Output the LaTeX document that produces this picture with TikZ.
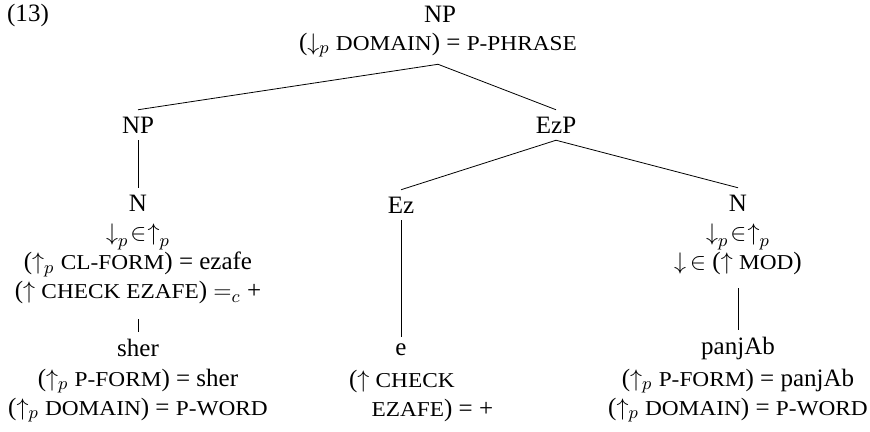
\documentclass[tikz,border=0pt]{standalone}
\usepackage{fontspec}
\setmainfont{Liberation Serif}
\newfontfamily\scfam[FakeStretch=1.1]{Liberation Serif}
\usepackage{amsmath}
\tikzset{cat/.style={font=\fontsize{12.5}{14.5}\selectfont},
  ann/.style={align=center,font=\fontsize{12.5}{14.5}\selectfont}}
\newcommand{\fsc}[1]{{\scfam\fontsize{10.6}{12}\selectfont #1}}
\newcommand{\pin}{$\mathord{\downarrow}_p\mkern1.5mu\mathord{\in}\mkern1mu\mathord{\uparrow}_p$}

\begin{document}
\begin{tikzpicture}[x=0.5pt,y=-0.5pt]
      \useasboundingbox (0,0) rectangle (870,432);
      \node[cat] (exnum) at (28,15) {(13)};
      \node[cat] (np0) at (440,14) {NP};
      \node[ann] (np0ann) at (438,45) {($\downarrow_p$ \fsc{DOMAIN}) = \fsc{P-PHRASE}};
      \node[cat] (npL) at (138,125) {NP};
      \node[cat] (ezp) at (556,125) {EzP};
      \node[cat] (nL) at (138,203) {N};
      \node[ann] (nLann) at (138,264) {\pin\\($\uparrow_p$ \fsc{CL-FORM}) = ezafe\\($\uparrow$ \fsc{CHECK EZAFE}) $=_c$ +};
      \node[cat] (ez) at (401,205) {Ez};
      \node[cat] (nR) at (738,203) {N};
      \node[ann] (nRann) at (738,249.5) {\pin\\$\downarrow\,\in$ ($\uparrow$ \fsc{MOD})};
      \node[cat] (sher) at (138,348) {sher};
      \node[ann] (sherann) at (138,395.5) {($\uparrow_p$ \fsc{P-FORM}) = sher\\($\uparrow_p$ \fsc{DOMAIN}) = \fsc{P-WORD}};
      \node[cat] (e) at (401,350) {e};
      \node[ann,align=left,anchor=west] (eann) at (342,395.5) {($\uparrow$ \fsc{CHECK}\\\hspace{0.9em}\fsc{EZAFE}) = +};
      \node[cat] (panjab) at (738,348) {panjAb};
      \node[ann] (panjabann) at (738,395.5) {($\uparrow_p$ \fsc{P-FORM}) = panjAb\\($\uparrow_p$ \fsc{DOMAIN}) = \fsc{P-WORD}};
      \draw (np0ann.south) -- (npL.north);
      \draw (np0ann.south) -- (ezp.north);
      \draw (npL.south) -- (nL.north);
      \draw[shorten <=4pt] (nLann.south) -- (sher.north);
      \draw (ezp.south) -- (ez.north);
      \draw (ezp.south) -- (nR.north);
      \draw (ez.south) -- (e.north);
      \draw[shorten <=3pt] (nRann.south) -- (panjab.north);
    \end{tikzpicture}
\end{document}
